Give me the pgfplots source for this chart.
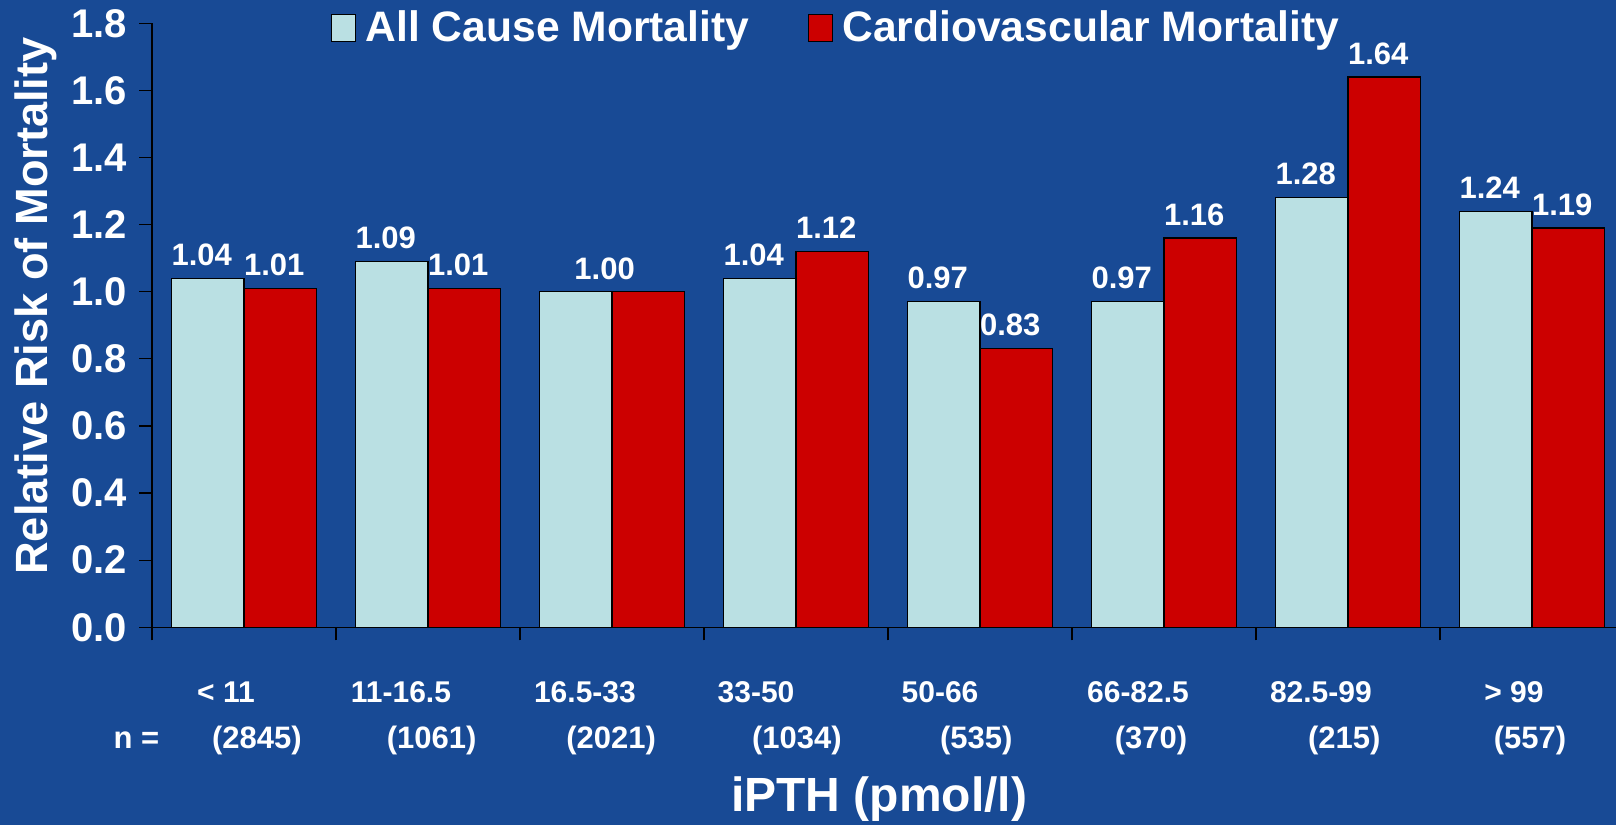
\documentclass[border=0pt]{standalone}
\usepackage{pgfplots}
\pgfplotsset{compat=1.18}
\usepackage{fontspec}
\setmainfont{Liberation Sans}
\definecolor{bg}{HTML}{184A95}
\definecolor{lightc}{HTML}{BAE0E3}
\definecolor{redc}{HTML}{CC0000}
\tikzset{catA/.style={font=\fontsize{15}{18}\selectfont\bfseries, text=white, anchor=base, inner sep=0pt, yshift=-37.7pt},
  catB/.style={font=\fontsize{15.5}{18}\selectfont\bfseries, text=white, anchor=base, inner sep=0pt, yshift=-60.6pt}}
\begin{document}
\begin{tikzpicture}
\fill[bg] (0pt,0pt) rectangle (808pt,412.5pt);
\useasboundingbox (0pt,0pt) rectangle (808pt,412.5pt);
\begin{axis}[
  at={(76pt,98.85pt)}, anchor=south west,
  scale only axis, width=732pt, height=302pt,
  xmin=-0.5, xmax=7.457, ymin=0, ymax=1.8,
  axis x line=bottom, axis y line=left,
  axis line style={-, black, line width=0.6pt},
  ybar=0pt, bar width=36.25pt,
  xtick={-0.5,0.5,1.5,2.5,3.5,4.5,5.5,6.5,7.5}, xticklabels={},
  ytick={0,0.2,0.4,0.6,0.8,1.0,1.2,1.4,1.6,1.8},
  tick align=outside, major tick length=6.5pt,
  tick style={black, line width=0.6pt},
  yticklabel style={font=\fontsize{20}{24}\selectfont\bfseries, text=white, xshift=-2.5pt, /pgf/number format/.cd, fixed, fixed zerofill, precision=1},
  /pgf/number format/assume math mode=true,
  ylabel={Relative Risk of Mortality},
  ylabel style={at={(axis description cs:-0.0792,0.532)}, anchor=center, font=\fontsize{22.6}{26}\selectfont\bfseries, text=white},
  xlabel={iPTH (pmol/l)},
  xlabel style={at={(axis description cs:0.4966,-0.284)}, anchor=center, font=\fontsize{24}{28}\selectfont\bfseries, text=white},
  clip=false,
  legend columns=2,
  legend style={at={(axis description cs:0.122,1.028)}, anchor=north west, draw=none, fill=none,
    font=\fontsize{21.3}{25}\selectfont\bfseries, text=white, inner sep=0pt,
    /tikz/every even column/.append style={column sep=27.25pt}},
  legend image code/.code={\draw[#1,draw=black,line width=0.6pt] (0pt,-6.75pt) rectangle (12pt,6.75pt); \path (14.75pt,0pt);},
  nodes near coords,
  point meta=explicit symbolic,
  every node near coord/.append style={font=\fontsize{15.5}{18}\selectfont\bfseries, text=white, anchor=south, inner sep=0pt, yshift=6pt, xshift=-3pt},
]
\addplot[fill=lightc, draw=black, line width=0.6pt] coordinates {
 (0,1.04) [1.04] (1,1.09) [1.09] (2,1.00) [] (3,1.04) [1.04]
 (4,0.97) [0.97] (5,0.97) [0.97] (6,1.28) [1.28] (7,1.24) [1.24]};
\addplot[fill=redc, draw=black, line width=0.6pt] coordinates {
 (0,1.01) [1.01] (1,1.01) [1.01] (2,1.00) [] (3,1.12) [1.12]
 (4,0.83) [0.83] (5,1.16) [1.16] (6,1.64) [1.64] (7,1.19) [1.19]};
\legend{All Cause Mortality, Cardiovascular Mortality}
\node[font=\fontsize{15.5}{18}\selectfont\bfseries, text=white, anchor=south, inner sep=0pt, yshift=6pt] at (axis cs:1.96,1.00) {1.00};
\node[catA] at (axis cs:-0.098,0) {< 11};
\node[catA] at (axis cs:0.853,0) {11-16.5};
\node[catA] at (axis cs:1.853,0) {16.5-33};
\node[catA] at (axis cs:2.783,0) {33-50};
\node[catA] at (axis cs:3.783,0) {50-66};
\node[catA] at (axis cs:4.859,0) {66-82.5};
\node[catA] at (axis cs:5.853,0) {82.5-99};
\node[catA] at (axis cs:6.902,0) {> 99};
\node[catB] at (axis cs:-0.584,0) {n =};
\node[catB] at (axis cs:0.07,0) {(2845)};
\node[catB] at (axis cs:1.02,0) {(1061)};
\node[catB] at (axis cs:1.995,0) {(2021)};
\node[catB] at (axis cs:3.005,0) {(1034)};
\node[catB] at (axis cs:3.98,0) {(535)};
\node[catB] at (axis cs:4.93,0) {(370)};
\node[catB] at (axis cs:5.98,0) {(215)};
\node[catB] at (axis cs:6.99,0) {(557)};
\end{axis}
\end{tikzpicture}
\end{document}
